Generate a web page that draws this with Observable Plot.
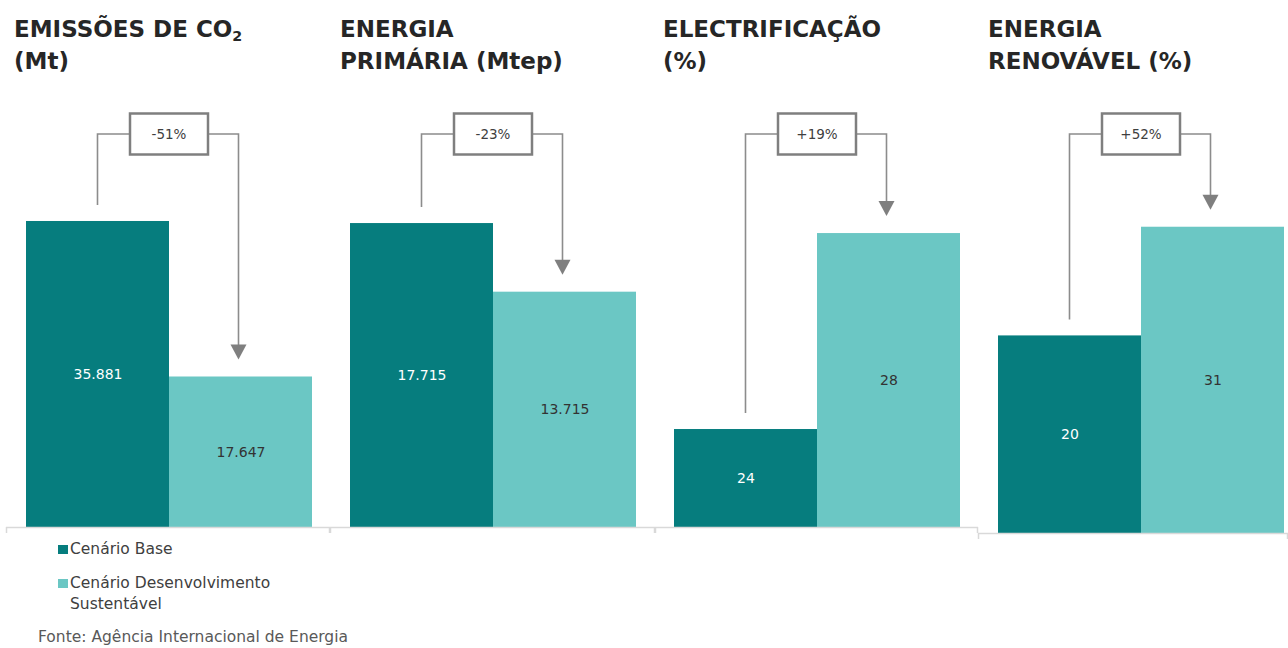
<!DOCTYPE html>
<html>
<head>
<meta charset="utf-8">
<script src="https://cdn.jsdelivr.net/npm/d3@7"></script>
<script src="https://cdn.jsdelivr.net/npm/@observablehq/plot@0.6"></script>
<style>
  html, body { margin: 0; padding: 0; background: #fff; }
  #root { position: relative; width: 1288px; height: 648px; overflow: hidden; font-family: "DejaVu Sans", sans-serif; }
  .title { position: absolute; top: 13px; font-family: "DejaVu Sans", sans-serif; font-weight: bold; font-size: 23px; line-height: 32px; color: #262626; white-space: nowrap; }
  .title sub { font-size: 0.62em; line-height: 0; vertical-align: -0.28em; }
  .panel { position: absolute; top: 90px; }
  .panel svg { display: block; overflow: visible; }
  .leg { position: absolute; font-size: 15.5px; line-height: 21px; color: #404040; }
  .sw { position: absolute; width: 10px; height: 9px; }
  .src { position: absolute; left: 38px; top: 627px; font-size: 15.5px; line-height: 21px; color: #595959; white-space: nowrap; }
</style>
</head>
<body>
<div id="root"></div>
<script>
// ---- data ----
const panelTitles = [
  "EMISSÕES DE CO<sub>2</sub><br>(Mt)",
  "ENERGIA<br>PRIMÁRIA (Mtep)",
  "ELECTRIFICAÇÃO<br>(%)",
  "ENERGIA<br>RENOVÁVEL (%)"
];
const series = ["Cenário Base", "Cenário Desenvolvimento Sustentável"];
const baseValues = [35.881, 17.715, 24, 20];
const sustValues = [17.647, 13.715, 28, 31];
const baseLabels = ["35.881", "17.715", "24", "20"];
const sustLabels = ["17.647", "13.715", "28", "31"];
const changeLabels = ["-51%", "-23%", "+19%", "+52%"];
const axisMin = [0, 0, 22, 0];
const axisMax = [51.24, 25.47, 30.92, 44.84];
const colors = ["#067d7e", "#6bc7c4"];
const sourceText = "Fonte: Agência Internacional de Energia";

// ---- layout ----
const panelLeft = [6, 330, 655, 978];
const panelWidth = [324, 325, 323, 310];
const marginL = [20, 20, 19, 20];
const marginR = [18, 19, 18, 4];
const marginB = [13, 13, 13, 7];
const titleLeft = [14, 340, 663, 988];
const panelHeight = 450;
const bracketLevel = 44; // px from top of panel svg

const root = document.getElementById("root");
const lineColor = "#8c8c8c";

for (let i = 0; i < 4; i++) {
  const t = document.createElement("div");
  t.className = "title";
  t.style.left = titleLeft[i] + "px";
  t.innerHTML = panelTitles[i];
  root.appendChild(t);

  const rows = [
    {series: series[0], value: baseValues[i], label: baseLabels[i]},
    {series: series[1], value: sustValues[i], label: sustLabels[i]}
  ];
  const lo = axisMin[i];
  const plot = Plot.plot({
    width: panelWidth[i],
    height: panelHeight,
    marginTop: 0,
    marginBottom: marginB[i],
    marginLeft: marginL[i],
    marginRight: marginR[i],
    x: {domain: series, paddingInner: 0, paddingOuter: 0, axis: null},
    y: {domain: [lo, axisMax[i]], axis: null},
    color: {domain: series, range: colors},
    style: {fontFamily: "DejaVu Sans, sans-serif", background: "transparent"},
    marks: [
      Plot.barY(rows, {x: "series", y1: lo, y2: "value", fill: "series"}),
      Plot.ruleY([lo], {stroke: "#d9d9d9", strokeWidth: 1.5, insetLeft: -marginL[i], insetRight: -marginR[i]}),
      Plot.text(rows.slice(0, 1), {x: "series", y: d => (lo + d.value) / 2, text: "label", fill: "#ffffff", fontSize: 14}),
      Plot.text(rows.slice(1), {x: "series", y: d => (lo + d.value) / 2, text: "label", fill: "#333333", fontSize: 14})
    ]
  });

  // annotation bracket drawn from the plot's own scales
  const sx = plot.scale("x"), sy = plot.scale("y");
  const bw = sx.bandwidth;
  const cx1 = sx.apply(series[0]) + bw / 2;
  const cx2 = sx.apply(series[1]) + bw / 2;
  const y1 = sy.apply(baseValues[i]);
  const y2 = sy.apply(sustValues[i]);
  const topY = bracketLevel;
  const xm = (cx1 + cx2) / 2;
  const boxW = 78, boxH = 41;
  const tipY = y2 - 17;
  const svg = d3.select(plot);
  const g = svg.append("g");
  // axis end ticks
  const baseY = sy.apply(lo);
  g.append("line").attr("x1", 0.5).attr("x2", 0.5).attr("y1", baseY).attr("y2", baseY + 6)
    .attr("stroke", "#d9d9d9").attr("stroke-width", 1.5);
  g.append("line").attr("x1", panelWidth[i] - 0.5).attr("x2", panelWidth[i] - 0.5).attr("y1", baseY).attr("y2", baseY + 6)
    .attr("stroke", "#d9d9d9").attr("stroke-width", 1.5);
  g.append("path")
    .attr("d", `M${cx1},${y1 - 16}V${topY}H${xm - boxW / 2}`)
    .attr("fill", "none").attr("stroke", lineColor).attr("stroke-width", 1.6);
  g.append("path")
    .attr("d", `M${xm + boxW / 2},${topY}H${cx2 - 2}V${tipY - 14}`)
    .attr("fill", "none").attr("stroke", lineColor).attr("stroke-width", 1.6);
  g.append("path")
    .attr("d", `M${cx2 - 10},${tipY - 15}L${cx2 + 6},${tipY - 15}L${cx2 - 2},${tipY}Z`)
    .attr("fill", "#7f7f7f");
  g.append("rect")
    .attr("x", xm - boxW / 2).attr("y", topY - boxH / 2)
    .attr("width", boxW).attr("height", boxH)
    .attr("fill", "#fff").attr("stroke", "#7f7f7f").attr("stroke-width", 2.5);
  g.append("text")
    .attr("x", xm).attr("y", topY).attr("dy", "0.35em")
    .attr("text-anchor", "middle")
    .attr("font-family", "DejaVu Sans, sans-serif")
    .attr("font-size", 13.5).attr("fill", "#404040")
    .text(changeLabels[i]);

  const wrap = document.createElement("div");
  wrap.className = "panel";
  wrap.style.left = panelLeft[i] + "px";
  wrap.appendChild(plot);
  root.appendChild(wrap);
}

// legend
const legTops = [539, 573];
series.forEach((s, k) => {
  const sw = document.createElement("div");
  sw.className = "sw";
  sw.style.left = "58px";
  sw.style.top = (legTops[k] + 6) + "px";
  sw.style.background = colors[k];
  root.appendChild(sw);
  const t = document.createElement("div");
  t.className = "leg";
  t.style.left = "70px";
  t.style.top = legTops[k] + "px";
  t.style.width = "215px";
  t.textContent = s;
  root.appendChild(t);
});

const src = document.createElement("div");
src.className = "src";
src.textContent = sourceText;
root.appendChild(src);
</script>
</body>
</html>
